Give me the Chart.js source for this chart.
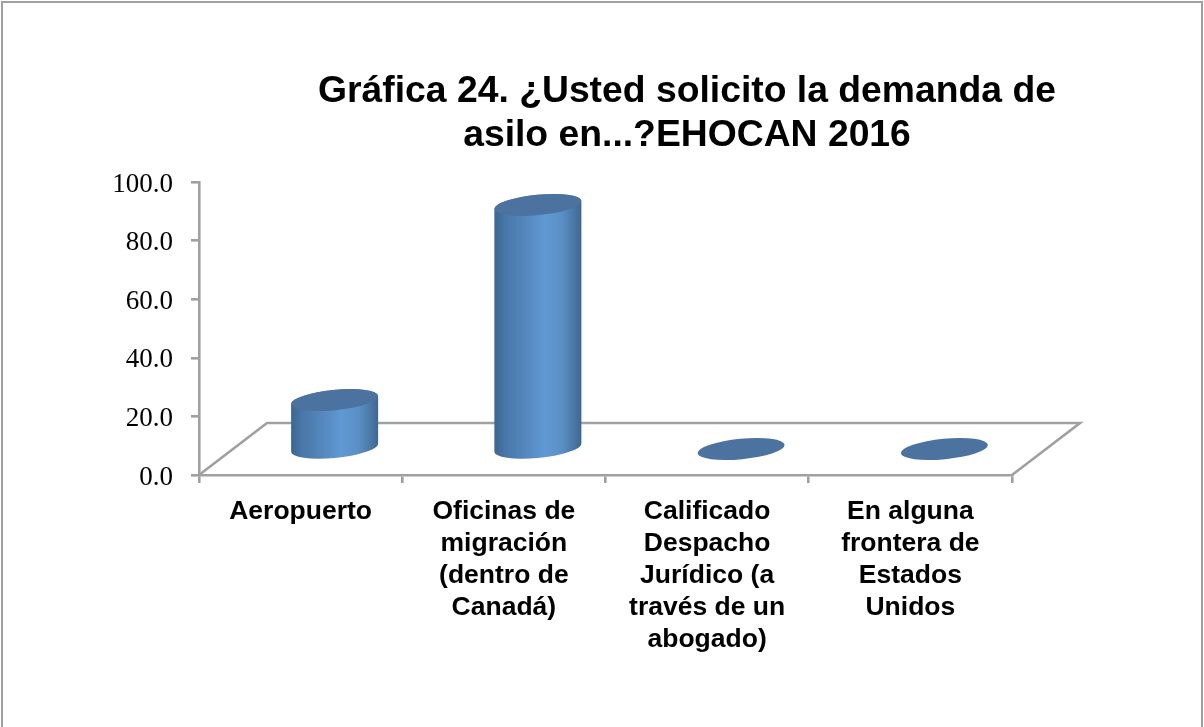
<!DOCTYPE html>
<html>
<head>
<meta charset="utf-8">
<script src="https://cdn.jsdelivr.net/npm/chart.js@4"></script>
<style>
html,body{margin:0;padding:0;background:#fff;overflow:hidden}
#frame{position:absolute;left:1px;top:1px;width:1198px;height:726px;border:2px solid #a0a0a0;border-bottom:none}
#wrap{position:absolute;left:0;top:0;width:1204px;height:727px}
canvas{display:block}
</style>
</head>
<body>
<div id="frame"></div>
<div id="wrap"><canvas id="c" width="1204" height="727"></canvas></div>
<script>
const categories = [
  ["Aeropuerto"],
  ["Oficinas de","migración","(dentro de","Canadá)"],
  ["Calificado","Despacho","Jurídico (a","través de un","abogado)"],
  ["En alguna","frontera de","Estados","Unidos"]
];
const values = [16.7, 83.3, 0, 0];
const titleLines = ["Gráfica 24. ¿Usted solicito la demanda de","asilo en...?EHOCAN 2016"];

const AXIS = '#a0a0a0';
const DEPTH = {x: 68, y: 52};
const ELL = {rx: 43.7, ry: 10.2, rot: -5.56 * Math.PI / 180};
const TOPC = '#4c729f';

const floorPlugin = {
  id: 'floor',
  beforeDatasetsDraw(chart) {
    const {left, right, bottom} = chart.chartArea, g = chart.ctx;
    g.save();
    g.strokeStyle = AXIS; g.lineWidth = 2.6;
    g.beginPath();
    g.moveTo(left, bottom);
    g.lineTo(left + DEPTH.x, bottom - DEPTH.y);
    g.lineTo(right + DEPTH.x, bottom - DEPTH.y);
    g.lineTo(right, bottom);
    g.stroke();
    g.restore();
  }
};
const cylinderPlugin = {
  id: 'cylinder',
  beforeDatasetDraw(chart, args) {
    const g = chart.ctx, meta = args.meta;
    const t0 = Math.atan2(-ELL.ry * Math.sin(ELL.rot), ELL.rx * Math.cos(ELL.rot));
    const ox = DEPTH.x / 2, oy = DEPTH.y / 2;
    meta.data.forEach(el => {
      const cx = el.x + ox, top = el.y - oy, base = el.base - oy;
      const hw = el.width / 2;
      g.save();
      if (base - top > 0.5) {
        const gr = g.createLinearGradient(cx - hw, 0, cx + hw, 0);
        gr.addColorStop(0, '#3c6791');
        gr.addColorStop(0.12, '#4877a8');
        gr.addColorStop(0.35, '#5587bd');
        gr.addColorStop(0.58, '#5f99d3');
        gr.addColorStop(0.78, '#5a8fc5');
        gr.addColorStop(0.92, '#4a78a6');
        gr.addColorStop(1, '#3e6890');
        g.beginPath();
        g.ellipse(cx, base, ELL.rx, ELL.ry, ELL.rot, t0, t0 + Math.PI);
        g.ellipse(cx, top, ELL.rx, ELL.ry, ELL.rot, t0 + Math.PI, t0 + 2 * Math.PI);
        g.closePath();
        g.fillStyle = gr;
        g.fill();
      }
      g.beginPath();
      g.ellipse(cx, top, ELL.rx, ELL.ry, ELL.rot, 0, 2 * Math.PI);
      g.fillStyle = TOPC;
      g.fill();
      g.restore();
    });
    return false;
  }
};
const titleShift = {
  id: 'titleShift',
  afterLayout(chart) {
    const t = chart.titleBlock;
    t.left += 181;
    t.right += 181;
  }
};

new Chart(document.getElementById('c'), {
  type: 'bar',
  data: {
    labels: categories,
    datasets: [{
      data: values,
      backgroundColor: '#5f99d3',
      barPercentage: 0.4226,
      categoryPercentage: 1
    }]
  },
  plugins: [floorPlugin, cylinderPlugin, titleShift],
  options: {
    responsive: false,
    animation: false,
    layout: {padding: {left: 0, right: 192, top: 0, bottom: 0}},
    plugins: {
      legend: {display: false},
      tooltip: {enabled: false},
      title: {
        display: true,
        text: titleLines,
        color: '#000',
        font: {family: '"Liberation Sans"', weight: 'bold', size: 37.3, lineHeight: 1.18},
        padding: {top: 70, bottom: 24}
      }
    },
    scales: {
      x: {
        afterFit(s) { s.height = 252; },
        border: {color: AXIS, width: 2.6},
        grid: {drawOnChartArea: false, color: AXIS, lineWidth: 2.6, tickLength: 8},
        ticks: {
          color: '#000', autoSkip: false, maxRotation: 0, padding: 13,
          font: {family: '"Liberation Sans"', weight: 'bold', size: 26.5, lineHeight: 1.208}
        }
      },
      y: {
        min: 0, max: 100,
        afterFit(s) { s.width = 199; },
        border: {color: AXIS, width: 2.6},
        grid: {drawOnChartArea: false, color: AXIS, lineWidth: 2.6, tickLength: 8},
        ticks: {
          stepSize: 20, color: '#000', padding: 18, labelOffset: 2.5,
          font: {family: '"Liberation Serif"', size: 27},
          callback: v => v.toFixed(1)
        }
      }
    }
  }
});
</script>
</body>
</html>
